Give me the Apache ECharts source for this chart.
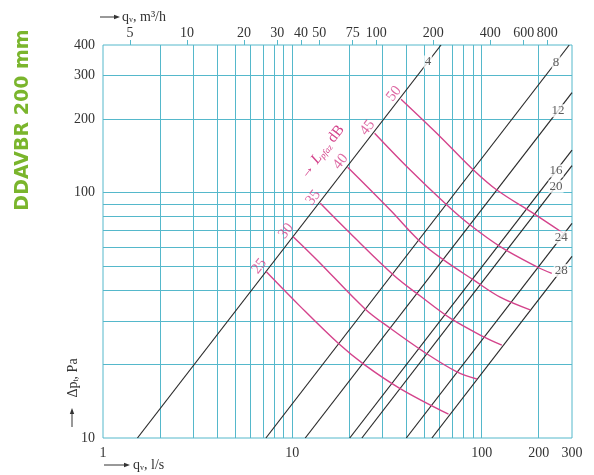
<!DOCTYPE html>
<html><head><meta charset="utf-8">
<script src="https://cdn.jsdelivr.net/npm/echarts@6/dist/echarts.min.js"></script>
<style>html,body{margin:0;padding:0;background:#fff}#c{width:594px;height:475px}</style>
</head><body><div id="c"></div>
<script>
// ---- axes (l/s bottom, m3/h top, Pa left) ----
const xLabels = [1, 10, 100, 200, 300];
const xGrid = [2, 3, 4, 5, 6, 7, 8, 9, 10, 20, 30, 40, 50, 60, 70, 80, 90, 100, 200];
const topLabels = [5, 10, 20, 30, 40, 50, 75, 100, 200, 400, 600, 800];
const yLabels = [10, 100, 200, 300, 400];
const yGrid = [20, 30, 40, 50, 60, 70, 80, 90, 100, 200, 300];

// ---- damper-position lines [q l/s, dp Pa] ----
const damperNames = ['4', '8', '12', '16', '20', '24', '28'];
const damperStart = [[1.52, 10], [7.25, 10], [11.7, 10], [20.1, 10], [23.3, 10], [40, 10], [54.6, 10]];
const damperEnd = [[61, 400], [290, 400], [300, 256], [300, 149], [300, 129], [300, 75], [300, 55]];
const damperLabelQ = [52, 247, 253, 247, 247, 263, 263];

// ---- sound level curves (dB) ----
const levels = [25, 30, 35, 40, 45, 50];
const curve25 = [[7.29, 47.6], [11.0, 34.4], [17.6, 24.2], [23.8, 20.0], [37.1, 15.9], [66.8, 12.5]];
const curve30 = [[10.1, 66.2], [13.5, 53.2], [24.3, 33.5], [32.9, 28.0], [49.3, 22.5], [74.0, 18.6], [94.3, 17.4]];
const curve35 = [[14.05, 90.5], [20.2, 68.3], [34.2, 46.2], [47.4, 37.9], [68.2, 30.8], [102, 25.9], [127.8, 23.9]];
const curve40 = [[19.6, 127], [32.9, 85.0], [47.4, 63.1], [62.9, 53.2], [90.5, 44.1], [125.2, 37.5], [180.3, 33.3]];
const curve45 = [[27.2, 174.7], [40.3, 127.6], [65.5, 89.1], [87.0, 73.8], [125.2, 60.3], [195.6, 49.9], [234.6, 46.9]];
const curve50 = [[37.5, 240.3], [60.4, 169.2], [90.5, 123.8], [120.3, 102.6], [187.6, 82.4], [269, 68.5]];
const curves = [curve25, curve30, curve35, curve40, curve45, curve50];

const M3H_PER_LS = 3.6;

const GRID = '#55b8cb';
const PINK = '#d4448c';
const INK = '#2a2a2a';
const TXT = '#333';
const SERIF = '"Liberation Serif", "DejaVu Serif", serif';

const chart = echarts.init(document.getElementById('c'), null, {renderer: 'canvas'});

const series = [];
damperNames.forEach((n, i) => {
  series.push({
    type: 'line', name: 'd' + n, data: [damperStart[i], damperEnd[i]],
    symbol: 'none', silent: true, z: 3,
    lineStyle: {color: INK, width: 1.2}
  });
});
curves.forEach((c, i) => {
  series.push({
    type: 'line', name: 'L' + levels[i], data: c, smooth: 0.35,
    symbol: 'none', silent: true, z: 4,
    lineStyle: {color: PINK, width: 1.4}
  });
});
// damper labels, placed on their lines
const damperLabelData = damperNames.map((n, i) => {
  const s = damperStart[i], e = damperEnd[i];
  const k = Math.log(e[1] / s[1]) / Math.log(e[0] / s[0]);
  const q = damperLabelQ[i];
  return [q, s[1] * Math.pow(q / s[0], k), n];
});
series.push({
  type: 'scatter', data: damperLabelData, symbolSize: 1, silent: true, z: 10,
  itemStyle: {color: 'rgba(0,0,0,0)'},
  label: {show: true, position: 'inside', formatter: p => p.value[2],
    color: TXT, fontFamily: SERIF, fontSize: 13, backgroundColor: '#fff', padding: [0, 1]}
});
// level labels at curve starts
series.push({
  type: 'scatter', data: curves.map((c, i) => [c[0][0], c[0][1], String(levels[i])]),
  symbolSize: 1, silent: true, z: 10,
  itemStyle: {color: 'rgba(0,0,0,0)'},
  label: {show: true, position: 'inside', formatter: p => p.value[2], rotate: 52, offset: [0, -9],
    color: PINK, fontFamily: SERIF, fontSize: 15}
});

function arrow(x1, y1, x2, y2, color) {
  const a = Math.atan2(y2 - y1, x2 - x1), L = 6, W = 2.2;
  const bx = x2 - L * Math.cos(a), by = y2 - L * Math.sin(a);
  return [
    {type: 'line', shape: {x1, y1, x2: bx, y2: by}, style: {stroke: color, lineWidth: 1}, silent: true},
    {type: 'polygon', shape: {points: [[x2, y2], [bx - W * Math.sin(a), by + W * Math.cos(a)], [bx + W * Math.sin(a), by - W * Math.cos(a)]]},
     style: {fill: color}, silent: true}
  ];
}

const rich = {
  a: {fontFamily: SERIF, fontSize: 14, fill: TXT},
  s: {fontFamily: SERIF, fontSize: 8, fill: TXT, verticalAlign: 'bottom', padding: [6, 0, 0, 0]}
};

const option = {
  animation: false,
  backgroundColor: '#fff',
  grid: {left: 103, right: 22, top: 45, bottom: 37, show: true, borderColor: GRID, borderWidth: 1},
  xAxis: [{
    type: 'log', logBase: 10, min: 1, max: 300, position: 'bottom',
    axisLine: {show: false},
    axisTick: {show: false, customValues: xGrid},
    splitLine: {show: true, lineStyle: {color: GRID, width: 1}},
    axisLabel: {customValues: xLabels, margin: 8, color: TXT, fontFamily: SERIF, fontSize: 14}
  }, {
    type: 'log', logBase: 10, min: 1 * M3H_PER_LS, max: 300 * M3H_PER_LS, position: 'top',
    axisLine: {show: false},
    axisTick: {show: true, inside: false, length: 5, customValues: topLabels, lineStyle: {color: GRID}},
    splitLine: {show: false},
    axisLabel: {customValues: topLabels, margin: 5, color: TXT, fontFamily: SERIF, fontSize: 14}
  }],
  yAxis: [{
    type: 'log', logBase: 10, min: 10, max: 400,
    axisLine: {show: false},
    axisTick: {show: false, customValues: yGrid},
    splitLine: {show: true, lineStyle: {color: GRID, width: 1}},
    axisLabel: {customValues: yLabels, margin: 8, color: TXT, fontFamily: SERIF, fontSize: 14}
  }],
  series: series,
  graphic: [
    {type: 'text', x: 23, y: 120, rotation: Math.PI / 2, silent: true,
     style: {text: 'DDAVBR 200 mm', font: 'bold 19px "DejaVu Sans"', fill: '#7ab52c', align: 'center', verticalAlign: 'middle'}},
    ...arrow(100, 17, 120, 17, TXT),
    {type: 'text', x: 122, y: 17, silent: true,
     style: {text: '{a|q}{s|v}{a|, m³/h}', rich: rich, verticalAlign: 'middle', align: 'left'}},
    ...arrow(104, 465, 130, 465, TXT),
    {type: 'text', x: 133, y: 465, silent: true,
     style: {text: '{a|q}{s|v}{a|, l/s}', rich: rich, verticalAlign: 'middle', align: 'left'}},
    ...arrow(72, 427, 72, 408, TXT),
    {type: 'text', x: 73, y: 378, rotation: Math.PI / 2, silent: true,
     style: {text: '{a|Δp}{s|t}{a|, Pa}', rich: rich, verticalAlign: 'middle', align: 'center'}},
    {type: 'text', x: 322, y: 152, rotation: 52 * Math.PI / 180, silent: true,
     style: {text: '{a|→ }{l|L}{s|pfaz}{a| dB}', align: 'center', verticalAlign: 'middle',
       rich: {
         a: {fontFamily: SERIF, fontSize: 15, fill: PINK},
         l: {fontFamily: SERIF, fontSize: 15, fontStyle: 'italic', fill: PINK},
         s: {fontFamily: SERIF, fontSize: 9, fontStyle: 'italic', fill: PINK, verticalAlign: 'bottom', padding: [7, 0, 0, 0]}
       }}}
  ]
};
chart.setOption(option);
</script>
</body></html>
